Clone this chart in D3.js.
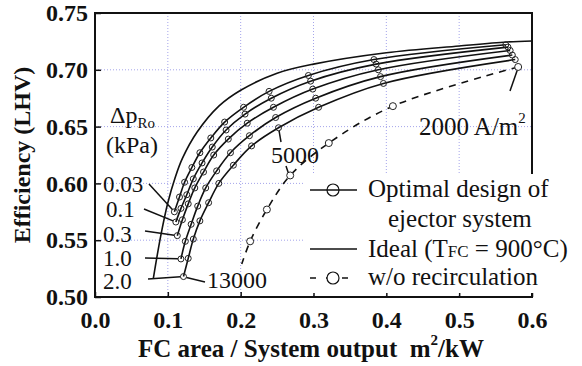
<!DOCTYPE html>
<html>
<head>
<meta charset="utf-8">
<script src="https://cdn.jsdelivr.net/npm/d3@7"></script>
<style>
  html, body { margin: 0; padding: 0; background: #fff; }
  svg { display: block; }
  text { font-family: "Liberation Serif", "Times New Roman", serif; fill: #111; }
</style>
</head>
<body>
<svg id="chart" width="582" height="366"></svg>
<script>
// ---------------- data ----------------
const xTickValues = [0.0, 0.1, 0.2, 0.3, 0.4, 0.5, 0.6];
const xTickLabels = ["0.0", "0.1", "0.2", "0.3", "0.4", "0.5", "0.6"];
const yTickValues = [0.50, 0.55, 0.60, 0.65, 0.70, 0.75];
const yTickLabels = ["0.50", "0.55", "0.60", "0.65", "0.70", "0.75"];

// current densities of the markers (A/m2)
const currentDensity = [2000, 3000, 4000, 5000, 6000, 7000, 8000, 9000, 10000, 11000, 12000, 13000];

// optimal ejector design, one series per recirculation pressure drop (kPa)
const pressureLabels = ["0.03", "0.1", "0.3", "1.0", "2.0"];
const areaDp003 = [0.564, 0.383, 0.293, 0.239, 0.204, 0.178, 0.159, 0.144, 0.133, 0.123, 0.116, 0.109];
const effDp003  = [0.722, 0.709, 0.695, 0.681, 0.667, 0.654, 0.640, 0.627, 0.614, 0.601, 0.588, 0.575];
const areaDp01  = [0.567, 0.386, 0.296, 0.242, 0.206, 0.180, 0.161, 0.147, 0.135, 0.126, 0.118, 0.111];
const effDp01   = [0.720, 0.705, 0.690, 0.675, 0.661, 0.647, 0.632, 0.618, 0.604, 0.590, 0.578, 0.566];
const areaDp03  = [0.570, 0.389, 0.299, 0.245, 0.209, 0.183, 0.163, 0.149, 0.137, 0.128, 0.120, 0.113];
const effDp03   = [0.717, 0.700, 0.683, 0.667, 0.653, 0.639, 0.625, 0.610, 0.596, 0.582, 0.568, 0.554];
const areaDp10  = [0.573, 0.392, 0.303, 0.248, 0.212, 0.186, 0.167, 0.152, 0.141, 0.132, 0.124, 0.118];
const effDp10   = [0.713, 0.694, 0.675, 0.658, 0.642, 0.627, 0.611, 0.596, 0.580, 0.564, 0.549, 0.5335];
const areaDp20  = [0.577, 0.396, 0.307, 0.252, 0.215, 0.190, 0.170, 0.156, 0.144, 0.135, 0.128, 0.1215];
const effDp20   = [0.709, 0.688, 0.667, 0.649, 0.633, 0.616, 0.600, 0.583, 0.567, 0.551, 0.534, 0.518];

// ideal (T_FC = 900 C)
const idealArea = [0.080, 0.090, 0.100, 0.110, 0.120, 0.140, 0.170, 0.200, 0.250, 0.300, 0.400, 0.500, 0.565, 0.600];
const idealEff  = [0.516, 0.553, 0.583, 0.605, 0.622, 0.645, 0.668, 0.682, 0.697, 0.705, 0.715, 0.721, 0.7245, 0.7254];

// without recirculation (markers at 2000 ... 7000 A/m2) and the tail of its line
const noRecircArea = [0.581, 0.409, 0.321, 0.268, 0.236, 0.213];
const noRecircEff  = [0.7025, 0.668, 0.6355, 0.607, 0.577, 0.549];
const noRecircTailArea = [0.2015];
const noRecircTailEff  = [0.529];

// ---------------- drawing ----------------
const svg = d3.select("#chart");
const x = d3.scaleLinear().domain([0, 0.6]).range([95, 532]);
const y = d3.scaleLinear().domain([0.5, 0.75]).range([297, 13]);
const serif = '"Liberation Serif", "Times New Roman", serif';

// grid
const grid = svg.append("g").attr("stroke", "#8f8fe6").attr("stroke-width", 1)
  .attr("stroke-dasharray", "1,2").attr("opacity", 0.8);
[0.1, 0.2, 0.3, 0.4, 0.5].forEach(v => grid.append("line")
  .attr("x1", x(v)).attr("x2", x(v)).attr("y1", y(0.75)).attr("y2", y(0.5)));
[0.55, 0.60, 0.65, 0.70].forEach(v => grid.append("line")
  .attr("x1", x(0)).attr("x2", x(0.6)).attr("y1", y(v)).attr("y2", y(v)));

// axes
const xAxis = d3.axisBottom(x).tickValues(xTickValues)
  .tickFormat((d, i) => xTickLabels[i]).tickSizeInner(-5).tickSizeOuter(0).tickPadding(14);
const yAxis = d3.axisLeft(y).tickValues(yTickValues)
  .tickFormat((d, i) => yTickLabels[i]).tickSizeInner(-6).tickSizeOuter(0).tickPadding(7);
const gx = svg.append("g").attr("transform", `translate(0,${y(0.5)})`).call(xAxis);
const gy = svg.append("g").attr("transform", `translate(${x(0)},0)`).call(yAxis);
[gx, gy].forEach(g => {
  g.select(".domain").remove();
  g.selectAll("line").attr("stroke", "#111").attr("stroke-width", 1.5);
  g.selectAll("text").attr("font-family", serif).attr("font-size", 24)
    .attr("font-weight", "bold").attr("fill", "#111");
});

// frame
svg.append("rect").attr("x", x(0)).attr("y", y(0.75))
  .attr("width", x(0.6) - x(0)).attr("height", y(0.5) - y(0.75))
  .attr("fill", "none").attr("stroke", "#111").attr("stroke-width", 2);

const line = d3.line().x(d => x(d[0])).y(d => y(d[1])).curve(d3.curveCatmullRom.alpha(0.5));

// ideal
const idealPts = idealArea.map((a, i) => [a, idealEff[i]]);
svg.append("path").attr("d", line(idealPts)).attr("fill", "none")
  .attr("stroke", "#111").attr("stroke-width", 1.6);

// ejector series
const series = [
  [areaDp003, effDp003], [areaDp01, effDp01], [areaDp03, effDp03],
  [areaDp10, effDp10], [areaDp20, effDp20]
];
series.forEach(([ar, ef]) => {
  const pts = ar.map((a, i) => [a, ef[i]]);
  svg.append("path").attr("d", line(pts)).attr("fill", "none")
    .attr("stroke", "#111").attr("stroke-width", 1.6);
  svg.append("g").selectAll("circle").data(pts).join("circle")
    .attr("cx", d => x(d[0])).attr("cy", d => y(d[1])).attr("r", 3)
    .attr("fill", "none").attr("stroke", "#222").attr("stroke-width", 1);
});

// without recirculation
const nrPts = noRecircArea.map((a, i) => [a, noRecircEff[i]]);
const nrLinePts = nrPts.concat(noRecircTailArea.map((a, i) => [a, noRecircTailEff[i]]));
svg.append("path").attr("d", line(nrLinePts)).attr("fill", "none")
  .attr("stroke", "#111").attr("stroke-width", 1.6).attr("stroke-dasharray", "7,6");
svg.append("g").selectAll("circle").data(nrPts).join("circle")
  .attr("cx", d => x(d[0])).attr("cy", d => y(d[1])).attr("r", 3.5)
  .attr("fill", "#fff").attr("stroke", "#222").attr("stroke-width", 1);

// annotations
const ann = svg.append("g");
function txt(s, px, py, size, opts = {}) {
  return ann.append("text").attr("x", px).attr("y", py).attr("font-size", size)
    .attr("font-family", serif).attr("text-anchor", opts.anchor || "start")
    .attr("font-weight", opts.bold ? "bold" : "normal").text(s);
}
function seg(x1, y1, x2, y2) {
  ann.append("line").attr("x1", x1).attr("y1", y1).attr("x2", x2).attr("y2", y2)
    .attr("stroke", "#111").attr("stroke-width", 1.5);
}
// Delta p_Ro (kPa)
const dp = txt("Δp", 110, 123, 24);
dp.append("tspan").attr("font-size", 15).attr("dy", 5).text("Ro");
txt("(kPa)", 106, 153, 24);

// pressure labels with leaders to the 13000 A/m2 markers
const labelPos = [[103, 192, 149, 184], [106, 217, 144, 209], [103, 242, 145, 231], [103, 266, 145, 258], [103, 289, 148, 279]];
series.forEach(([ar, ef], i) => {
  const [tx, ty, lx, ly] = labelPos[i];
  txt(pressureLabels[i], tx, ty, 23);
  const last = ar.length - 1;
  const mx = x(ar[last]), my = y(ef[last]);
  const dx = mx - lx, dy = my - ly, L = Math.hypot(dx, dy);
  seg(lx, ly, mx - dx / L * 3, my - dy / L * 3);
});

// 13000 label
{
  const mx = x(areaDp20[11]), my = y(effDp20[11]);
  seg(mx + 3, my + 1, 205, 282);
  txt("13000", 207, 288, 24);
}
// 5000 label
{
  txt("5000", 271, 163, 24);
  const mx = x(areaDp20[3]), my = y(effDp20[3]);
  seg(281, 142, mx + 0.5, my + 3);
  const nx = x(noRecircArea[3]), ny = y(noRecircEff[3]);
  seg(286, 166, nx - 2, ny - 3);
}
// 2000 A/m2 label
{
  const t = txt("2000 A/m", 419, 135, 25);
  t.append("tspan").attr("font-size", 15).attr("dy", -12).text("2");
  const nx = x(noRecircArea[0]), ny = y(noRecircEff[0]);
  seg(510, 91, nx - 1, ny + 3.5);
}

// legend
const lg = svg.append("g");
lg.append("rect").attr("x", 303).attr("y", 174).attr("width", 279).attr("height", 119).attr("fill", "#fff");
function ltxt(s, px, py) {
  return lg.append("text").attr("x", px).attr("y", py).attr("font-size", 25)
    .attr("font-family", serif).text(s);
}
lg.append("line").attr("x1", 310).attr("x2", 357).attr("y1", 190).attr("y2", 190)
  .attr("stroke", "#111").attr("stroke-width", 1.5);
lg.append("circle").attr("cx", 333).attr("cy", 190).attr("r", 6)
  .attr("fill", "none").attr("stroke", "#111").attr("stroke-width", 1.2);
ltxt("Optimal design of", 368, 197);
ltxt("ejector system", 388, 227);
lg.append("line").attr("x1", 310).attr("x2", 357).attr("y1", 249).attr("y2", 249)
  .attr("stroke", "#111").attr("stroke-width", 1.5);
const it = ltxt("Ideal (T", 368, 257);
it.append("tspan").attr("font-size", 17).text("FC");
it.append("tspan").text("\u00a0= 900°C)");
lg.append("line").attr("x1", 310).attr("x2", 357).attr("y1", 278).attr("y2", 278)
  .attr("stroke", "#111").attr("stroke-width", 1.5).attr("stroke-dasharray", "6,10");
lg.append("circle").attr("cx", 333).attr("cy", 278).attr("r", 6)
  .attr("fill", "#fff").attr("stroke", "#111").attr("stroke-width", 1.2);
ltxt("w/o recirculation", 368, 285);

// axis titles
svg.append("text").attr("transform", "translate(30,155) rotate(-90)")
  .attr("text-anchor", "middle").attr("font-size", 24).attr("font-weight", "bold")
  .attr("font-family", serif).text("Efficiency (LHV)");
const xt = svg.append("text").attr("x", 138).attr("y", 357).attr("font-size", 25)
  .attr("font-weight", "bold").attr("font-family", serif);
xt.append("tspan").text("FC area / System output\u00a0\u00a0m");
xt.append("tspan").attr("font-size", 15).attr("dy", -12).text("2");
xt.append("tspan").attr("dy", 12).text("/kW");
</script>
</body>
</html>
